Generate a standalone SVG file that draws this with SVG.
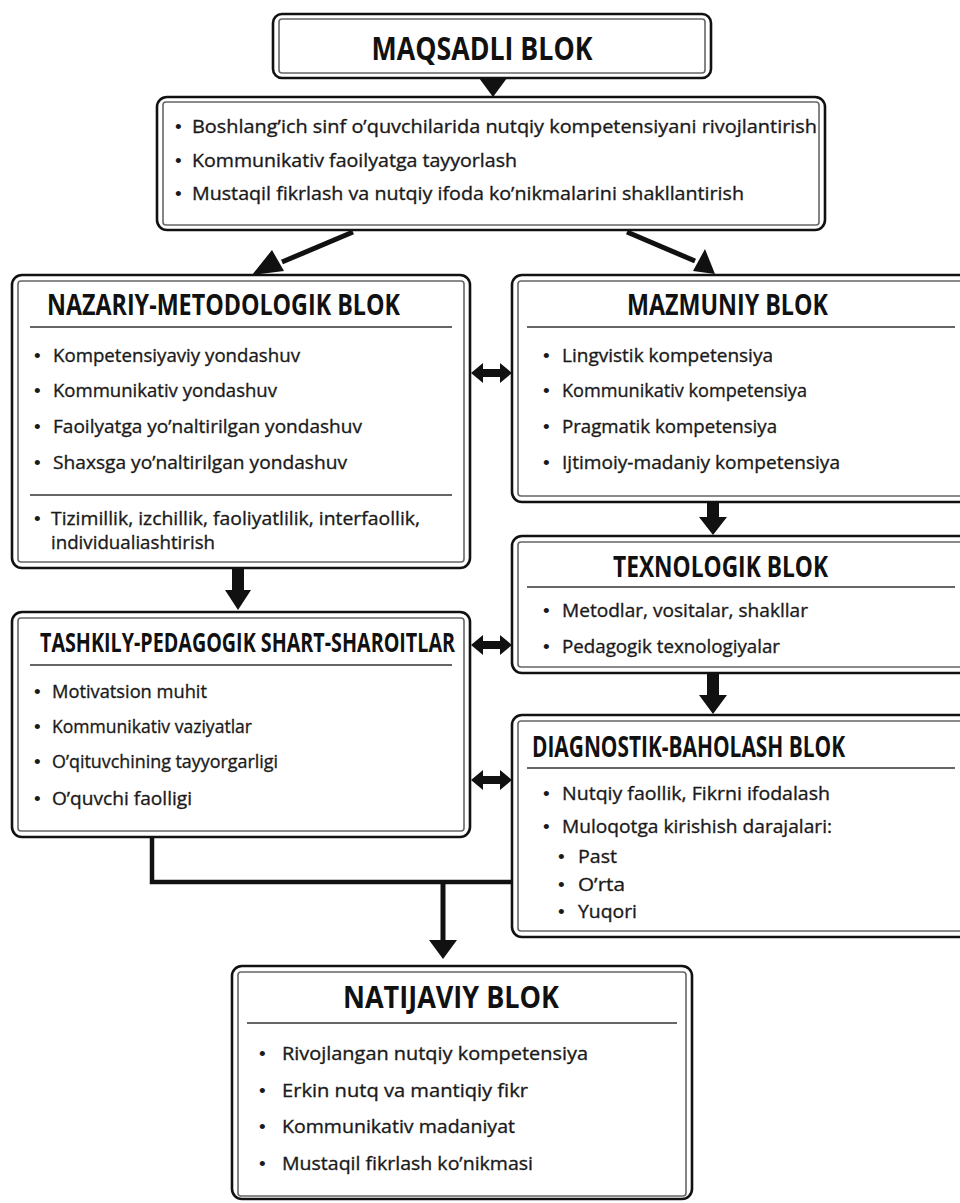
<svg xmlns="http://www.w3.org/2000/svg" width="960" height="1203" viewBox="0 0 960 1203">
<style>
.outer{fill:#fff;stroke:#111;stroke-width:2.6}
.inner{fill:none;stroke:#666;stroke-width:1.6}
.sep{stroke:#333;stroke-width:1.6}
.h{font-family:"Open Sans","Liberation Sans",sans-serif;font-weight:bold;fill:#111}
.t{font-family:"Open Sans","Liberation Sans",sans-serif;fill:#1a1a1a;font-size:19px;stroke:#1a1a1a;stroke-width:0.35}
.b{font-family:"Liberation Sans",sans-serif;fill:#1a1a1a;font-size:19px}
.ln{stroke:#111;fill:none}
.ah{fill:#111;stroke:none}
</style>
<rect width="960" height="1203" fill="#fff"/>

<g id="connectors">
  <polygon class="ah" points="479,78 507,78 493,97"/>
  <line class="ln" x1="353" y1="232" x2="282" y2="262" stroke-width="5"/>
  <polygon class="ah" points="252,275 272,250 284,271"/>
  <line class="ln" x1="627" y1="232" x2="695" y2="261" stroke-width="5"/>
  <polygon class="ah" points="715,274 693,271 705,249"/>
  <polygon class="ah" points="471,373 483,363 483,369 500,369 500,363 512,373 500,383 500,377 483,377 483,383"/>
  <polygon class="ah" points="707,503 719,503 719,517 727,517 713,535 699,517 707,517"/>
  <polygon class="ah" points="232,569 244,569 244,590 251,590 238,610 225,590 232,590"/>
  <polygon class="ah" points="471,645 483,635 483,641 500,641 500,635 512,645 500,655 500,649 483,649 483,655"/>
  <polygon class="ah" points="707,674 719,674 719,695 727,695 713,714 699,695 707,695"/>
  <polygon class="ah" points="471,780 483,770 483,776 500,776 500,770 512,780 500,790 500,784 483,784 483,790"/>
  <polyline class="ln" points="152,837 152,882 512,882" stroke-width="4.5"/>
  <line class="ln" x1="443" y1="882" x2="443" y2="942" stroke-width="5"/>
  <polygon class="ah" points="429,940 457,940 443,959"/>
</g>

<g id="maqsadli">
  <rect class="outer" x="273" y="14" width="438" height="64" rx="9"/>
  <rect class="inner" x="279" y="19" width="426" height="54" rx="3"/>
  <text class="h" x="482" y="60" font-size="32" text-anchor="middle" textLength="221" lengthAdjust="spacingAndGlyphs">MAQSADLI BLOK</text>
</g>

<g id="maqsadlar">
  <rect class="outer" x="157" y="97" width="668" height="133" rx="10"/>
  <rect class="inner" x="163" y="102" width="656" height="123" rx="3"/>
  <text class="b" x="175" y="133" font-size="20">•</text>
  <text class="t" x="192" y="133" font-size="20" textLength="625" lengthAdjust="spacingAndGlyphs">Boshlang’ich  sinf o’quvchilarida nutqiy kompetensiyani rivojlantirish</text>
  <text class="b" x="175" y="167" font-size="20">•</text>
  <text class="t" x="192" y="167" font-size="20" textLength="325" lengthAdjust="spacingAndGlyphs">Kommunikativ faoilyatga tayyorlash</text>
  <text class="b" x="175" y="200" font-size="20">•</text>
  <text class="t" x="192" y="200" font-size="20" textLength="552" lengthAdjust="spacingAndGlyphs">Mustaqil fikrlash va nutqiy ifoda ko’nikmalarini shakllantirish</text>
</g>

<g id="nazariy">
  <rect class="outer" x="12" y="275" width="458" height="293" rx="10"/>
  <rect class="inner" x="18" y="281" width="446" height="281" rx="3"/>
  <text class="h" x="47" y="315" font-size="28" textLength="353" lengthAdjust="spacingAndGlyphs">NAZARIY-METODOLOGIK BLOK</text>
  <line class="sep" x1="30" y1="327" x2="452" y2="327"/>
  <text class="b" x="34" y="362">•</text>
  <text class="t" x="53" y="362" textLength="247" lengthAdjust="spacingAndGlyphs">Kompetensiyaviy yondashuv</text>
  <text class="b" x="34" y="397">•</text>
  <text class="t" x="53" y="397" textLength="224" lengthAdjust="spacingAndGlyphs">Kommunikativ yondashuv</text>
  <text class="b" x="34" y="433">•</text>
  <text class="t" x="53" y="433" textLength="309" lengthAdjust="spacingAndGlyphs">Faoilyatga yo’naltirilgan yondashuv</text>
  <text class="b" x="34" y="469">•</text>
  <text class="t" x="53" y="469" textLength="294" lengthAdjust="spacingAndGlyphs">Shaxsga yo’naltirilgan yondashuv</text>
  <line class="sep" x1="30" y1="495" x2="452" y2="495"/>
  <text class="b" x="34" y="525" font-size="18">•</text>
  <text class="t" x="51" y="525" font-size="18" textLength="369" lengthAdjust="spacingAndGlyphs">Tizimillik, izchillik, faoliyatlilik, interfaollik,</text>
  <text class="t" x="51" y="549" font-size="18" textLength="164" lengthAdjust="spacingAndGlyphs">individualiashtirish</text>
</g>

<g id="mazmuniy">
  <rect class="outer" x="512" y="275" width="470" height="227" rx="10"/>
  <rect class="inner" x="518" y="281" width="458" height="215" rx="3"/>
  <text class="h" x="627" y="315" font-size="28" textLength="201" lengthAdjust="spacingAndGlyphs">MAZMUNIY BLOK</text>
  <line class="sep" x1="527" y1="327" x2="955" y2="327"/>
  <text class="b" x="543" y="362">•</text>
  <text class="t" x="562" y="362" textLength="211" lengthAdjust="spacingAndGlyphs">Lingvistik kompetensiya</text>
  <text class="b" x="543" y="397">•</text>
  <text class="t" x="562" y="397" textLength="245" lengthAdjust="spacingAndGlyphs">Kommunikativ kompetensiya</text>
  <text class="b" x="543" y="433">•</text>
  <text class="t" x="562" y="433" textLength="215" lengthAdjust="spacingAndGlyphs">Pragmatik kompetensiya</text>
  <text class="b" x="543" y="469">•</text>
  <text class="t" x="562" y="469" textLength="278" lengthAdjust="spacingAndGlyphs">Ijtimoiy-madaniy kompetensiya</text>
</g>

<g id="texnologik">
  <rect class="outer" x="512" y="536" width="470" height="137" rx="10"/>
  <rect class="inner" x="518" y="542" width="458" height="125" rx="3"/>
  <text class="h" x="613" y="577" font-size="28" textLength="215" lengthAdjust="spacingAndGlyphs">TEXNOLOGIK BLOK</text>
  <line class="sep" x1="527" y1="587" x2="955" y2="587"/>
  <text class="b" x="543" y="617">•</text>
  <text class="t" x="562" y="617" textLength="246" lengthAdjust="spacingAndGlyphs">Metodlar, vositalar, shakllar</text>
  <text class="b" x="543" y="653">•</text>
  <text class="t" x="562" y="653" textLength="218" lengthAdjust="spacingAndGlyphs">Pedagogik texnologiyalar</text>
</g>

<g id="tashkily">
  <rect class="outer" x="12" y="612" width="458" height="225" rx="10"/>
  <rect class="inner" x="18" y="618" width="446" height="213" rx="3"/>
  <text class="h" x="40" y="652" font-size="26" textLength="415" lengthAdjust="spacingAndGlyphs">TASHKILY-PEDAGOGIK SHART-SHAROITLAR</text>
  <line class="sep" x1="30" y1="665" x2="452" y2="665"/>
  <text class="b" x="34" y="698">•</text>
  <text class="t" x="52" y="698" textLength="155" lengthAdjust="spacingAndGlyphs">Motivatsion muhit</text>
  <text class="b" x="34" y="733">•</text>
  <text class="t" x="52" y="733" textLength="200" lengthAdjust="spacingAndGlyphs">Kommunikativ vaziyatlar</text>
  <text class="b" x="34" y="768">•</text>
  <text class="t" x="52" y="768" textLength="226" lengthAdjust="spacingAndGlyphs">O’qituvchining tayyorgarligi</text>
  <text class="b" x="34" y="805">•</text>
  <text class="t" x="52" y="805" textLength="140" lengthAdjust="spacingAndGlyphs">O’quvchi  faolligi</text>
</g>

<g id="diagnostik">
  <rect class="outer" x="512" y="715" width="470" height="222" rx="10"/>
  <rect class="inner" x="518" y="721" width="458" height="210" rx="3"/>
  <text class="h" x="532" y="757" font-size="28" textLength="313" lengthAdjust="spacingAndGlyphs">DIAGNOSTIK-BAHOLASH BLOK</text>
  <line class="sep" x1="527" y1="768" x2="955" y2="768"/>
  <text class="b" x="543" y="800">•</text>
  <text class="t" x="562" y="800" textLength="268" lengthAdjust="spacingAndGlyphs">Nutqiy faollik, Fikrni ifodalash</text>
  <text class="b" x="543" y="833">•</text>
  <text class="t" x="562" y="833" textLength="270" lengthAdjust="spacingAndGlyphs">Muloqotga kirishish darajalari:</text>
  <text class="b" x="558" y="863">•</text>
  <text class="t" x="578" y="863" textLength="39" lengthAdjust="spacingAndGlyphs">Past</text>
  <text class="b" x="558" y="891">•</text>
  <text class="t" x="578" y="891" textLength="47" lengthAdjust="spacingAndGlyphs">O’rta</text>
  <text class="b" x="558" y="918">•</text>
  <text class="t" x="578" y="918" textLength="59" lengthAdjust="spacingAndGlyphs">Yuqori</text>
</g>

<g id="natijaviy">
  <rect class="outer" x="232" y="966" width="460" height="233" rx="10"/>
  <rect class="inner" x="238" y="972" width="448" height="224" rx="3"/>
  <text class="h" x="451" y="1008" font-size="30" text-anchor="middle" textLength="216" lengthAdjust="spacingAndGlyphs">NATIJAVIY BLOK</text>
  <line class="sep" x1="247" y1="1023" x2="677" y2="1023"/>
  <text class="b" x="259" y="1060" font-size="21">•</text>
  <text class="t" x="282" y="1060" font-size="21" textLength="306" lengthAdjust="spacingAndGlyphs">Rivojlangan  nutqiy kompetensiya</text>
  <text class="b" x="259" y="1097" font-size="21">•</text>
  <text class="t" x="282" y="1097" font-size="21" textLength="246" lengthAdjust="spacingAndGlyphs">Erkin nutq va mantiqiy fikr</text>
  <text class="b" x="259" y="1133" font-size="21">•</text>
  <text class="t" x="282" y="1133" font-size="21" textLength="233" lengthAdjust="spacingAndGlyphs">Kommunikativ madaniyat</text>
  <text class="b" x="259" y="1170" font-size="21">•</text>
  <text class="t" x="282" y="1170" font-size="21" textLength="251" lengthAdjust="spacingAndGlyphs">Mustaqil fikrlash ko’nikmasi</text>
</g>
</svg>
